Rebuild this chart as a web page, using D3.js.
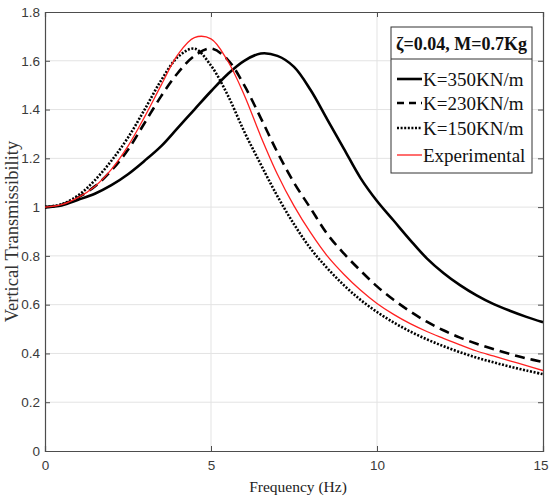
<!DOCTYPE html>
<html>
<head>
<meta charset="utf-8">
<script src="https://cdn.jsdelivr.net/npm/d3@7"></script>
<style>
  html, body { margin: 0; padding: 0; background: #fff; }
  svg { display: block; }
</style>
</head>
<body>
<svg id="chart" width="549" height="498"></svg>
<script>
const freq = [0,0.5,1,1.5,2,2.5,3,3.5,4,4.5,5,5.5,6,6.5,7,7.5,8,8.5,9,9.5,10,10.5,11,11.5,12,12.5,13,13.5,14,14.5,15];
const k350 = [1.00,1.007,1.03,1.055,1.09,1.135,1.19,1.25,1.325,1.40,1.475,1.545,1.60,1.63,1.62,1.575,1.48,1.36,1.24,1.12,1.025,0.945,0.865,0.79,0.73,0.68,0.638,0.603,0.575,0.55,0.528];
const k230 = [1.00,1.01,1.04,1.085,1.15,1.235,1.345,1.455,1.55,1.62,1.65,1.605,1.50,1.365,1.225,1.10,0.995,0.89,0.81,0.74,0.675,0.62,0.572,0.53,0.495,0.465,0.44,0.418,0.398,0.38,0.365];
const k150 = [1.00,1.012,1.048,1.11,1.19,1.285,1.40,1.52,1.615,1.65,1.58,1.46,1.31,1.175,1.045,0.93,0.83,0.75,0.68,0.62,0.57,0.527,0.49,0.458,0.43,0.405,0.383,0.364,0.346,0.33,0.315];
const expt = [1.00,1.01,1.04,1.085,1.155,1.25,1.37,1.50,1.625,1.695,1.69,1.60,1.46,1.29,1.135,1.005,0.895,0.80,0.725,0.66,0.605,0.56,0.522,0.49,0.462,0.435,0.41,0.39,0.37,0.35,0.33];
const xTicks = [0,5,10,15];
const yTicks = [0,0.2,0.4,0.6,0.8,1,1.2,1.4,1.6,1.8];
const legendTitle = "ζ=0.04, M=0.7Kg";
const seriesNames = ["K=350KN/m","K=230KN/m","K=150KN/m","Experimental"];

const svg = d3.select("#chart");
const L = 45, R = 543, T = 12, B = 451;
const x = d3.scaleLinear().domain([0,15]).range([L,R]);
const y = d3.scaleLinear().domain([0,1.8]).range([B,T]);

// grid
const grid = svg.append("g");
grid.selectAll("line.gx").data(xTicks.slice(1,-1)).join("line")
  .attr("x1", d=>x(d)).attr("x2", d=>x(d)).attr("y1", T).attr("y2", B)
  .attr("stroke", "#e3e3e3").attr("stroke-width", 1);
grid.selectAll("line.gy").data(yTicks.slice(1,-1)).join("line")
  .attr("x1", L).attr("x2", R).attr("y1", d=>y(d)).attr("y2", d=>y(d))
  .attr("stroke", "#e3e3e3").attr("stroke-width", 1);

// axes
const fmt = d => d3.format("")(d);
const axL = svg.append("g").attr("transform", `translate(${L},0)`)
  .call(d3.axisLeft(y).tickValues(yTicks).tickSize(-5).tickPadding(5).tickFormat(fmt));
const axR = svg.append("g").attr("transform", `translate(${R},0)`)
  .call(d3.axisRight(y).tickValues(yTicks).tickSize(-5).tickFormat(""));
const axB = svg.append("g").attr("transform", `translate(0,${B})`)
  .call(d3.axisBottom(x).tickValues(xTicks).tickSize(-5).tickPadding(9).tickFormat(fmt));
const axT = svg.append("g").attr("transform", `translate(0,${T})`)
  .call(d3.axisTop(x).tickValues(xTicks).tickSize(-5).tickFormat(""));
[axL, axR, axB, axT].forEach(g => {
  g.select(".domain").attr("stroke", "#4d4d4d").attr("stroke-width", 1.2);
  g.selectAll(".tick line").attr("stroke", "#4d4d4d");
  g.selectAll("text").attr("fill", "#3a3a3a").attr("font-family", "Liberation Sans, Arial, sans-serif").attr("font-size", 13.5);
});
axB.selectAll(".tick text").filter(d => d === 15).attr("dx", -2.5);

// lines
const line = d3.line().x((d,i)=>x(freq[i])).y(d=>y(d)).curve(d3.curveCatmullRom.alpha(0.5));
svg.append("clipPath").attr("id","pc").append("rect").attr("x",L).attr("y",T).attr("width",R-L).attr("height",B-T);
const plot = svg.append("g").attr("clip-path","url(#pc)");
const styles = [
  {data:k350, color:"#000", w:2.6, dash:null},
  {data:k230, color:"#000", w:2.6, dash:"10,6"},
  {data:k150, color:"#000", w:2.6, dash:"2,1.6"},
  {data:expt, color:"#ff2020", w:1.3, dash:null}
];
styles.forEach(s => {
  plot.append("path").attr("d", line(s.data)).attr("fill","none")
    .attr("stroke", s.color).attr("stroke-width", s.w)
    .attr("stroke-dasharray", s.dash);
});

// legend
const lg = svg.append("g");
const lx0 = 391, lx1 = 532, ly0 = 27, ly1 = 173, lsep = 59;
lg.append("rect").attr("x",lx0).attr("y",ly0).attr("width",lx1-lx0).attr("height",ly1-ly0)
  .attr("fill","#fff").attr("stroke","#333").attr("stroke-width",1);
lg.append("line").attr("x1",lx0).attr("x2",lx1).attr("y1",lsep).attr("y2",lsep).attr("stroke","#333");
lg.append("text").attr("x",(lx0+lx1)/2).attr("y",50).attr("text-anchor","middle")
  .attr("font-family","Liberation Serif, Times New Roman, serif").attr("font-weight","bold")
  .attr("font-size",18).attr("fill","#111").text(legendTitle);
const rowsY = [79, 103, 128, 155];
seriesNames.forEach((n,i) => {
  const s = styles[i];
  lg.append("line").attr("x1",397).attr("x2",422).attr("y1",rowsY[i]).attr("y2",rowsY[i])
    .attr("stroke", s.color).attr("stroke-width", s.w).attr("stroke-dasharray", s.dash ? (i===1? "7,5" : s.dash) : null);
  lg.append("text").attr("x",423).attr("y",rowsY[i]+6.5)
    .attr("font-family","Liberation Serif, Times New Roman, serif")
    .attr("font-size",19).attr("fill","#111").text(n);
});

// axis titles
svg.append("text").attr("x",(L+R)/2+4).attr("y",492).attr("text-anchor","middle")
  .attr("font-family","Liberation Serif, Times New Roman, serif").attr("font-size",15.5)
  .attr("fill","#222").text("Frequency (Hz)");
svg.append("text").attr("transform",`translate(18,${(T+B)/2}) rotate(-90)`).attr("text-anchor","middle")
  .attr("font-family","Liberation Serif, Times New Roman, serif").attr("font-size",18.5)
  .attr("fill","#333").text("Vertical Transmissibility");
</script>
</body>
</html>
